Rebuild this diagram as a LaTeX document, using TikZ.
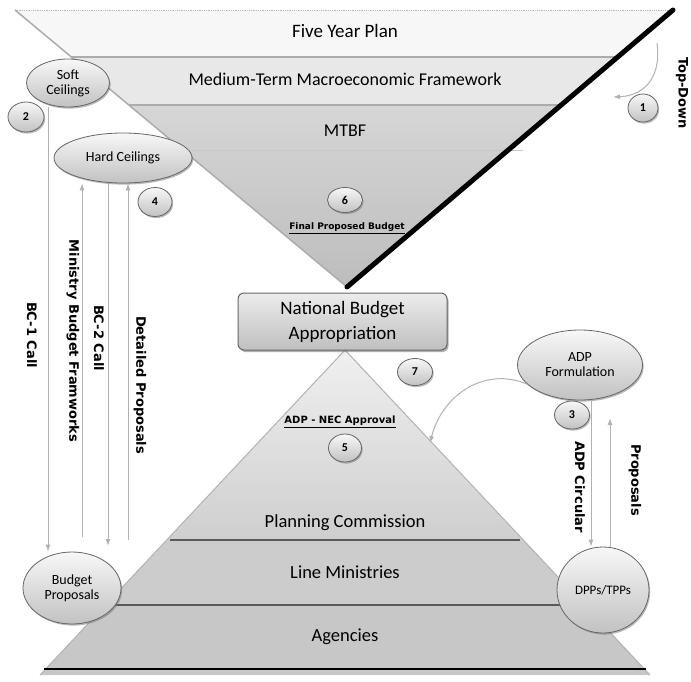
\documentclass[tikz,border=0pt]{standalone}
\usepackage{fontspec}
\setmainfont{Carlito}
\newfontfamily\lblfont{DejaVu Sans}
\usetikzlibrary{arrows.meta,shapes.geometric,shadows}
\begin{document}
\begin{tikzpicture}[x=1pt,y=-1pt,
  ell/.style={ellipse, shade, top color=gray!6, bottom color=gray!48, draw=black!60, line width=0.8pt,
    inner sep=0pt, align=center, font=\fontsize{14}{15}\selectfont,
    drop shadow={shadow xshift=1.2pt,shadow yshift=-1.6pt,fill=black!55}},
  num/.style={ell, font=\bfseries\fontsize{12}{12}\selectfont},
  band/.style={font=\fontsize{19}{20}\selectfont},
  lbl/.style={font=\lblfont\bfseries\fontsize{13}{13}\selectfont, rotate=-90, inner sep=0pt},
  ulbl/.style={font=\lblfont\bfseries\fontsize{10}{10}\selectfont, inner sep=0pt},
  conn/.style={draw=gray!60, line width=1pt},
  tip/.style={-{Latex[length=7pt,width=5pt]}},
  level/.style={draw=black!65, line width=1.6pt},
  nb/.style={rectangle, rounded corners=6pt, shade, top color=gray!15, bottom color=gray!50,
    draw=black!60, line width=1pt, minimum width=209pt, minimum height=57pt, align=center,
    font=\fontsize{19}{25}\selectfont,
    drop shadow={shadow xshift=1.5pt,shadow yshift=-2pt,fill=black!60}}
]
\useasboundingbox (0,0) rectangle (691,681);
\fill[white] (0,0) rectangle (691,681);

% ---------- top inverted triangle ----------
\coordinate (TL) at (15,10);
\coordinate (TR) at (673,10);
\coordinate (TA) at (347,287);
\fill[gray!6] (TL) -- (TR) -- (617.7,57) -- (71.3,57) -- cycle;
\fill[gray!18] (71.3,57) -- (617.7,57) -- (561.2,105) -- (128.9,105) -- cycle;
\shade[top color=gray!32, bottom color=gray!52] (128.9,105) -- (561.2,105) -- (TA) -- cycle;
\draw[gray!55, densely dotted, line width=0.8pt] (TL) -- (TR);
\draw[gray!65, line width=1.4pt] (71.3,57) -- (617.7,57);
\draw[gray!65, line width=1.4pt] (128.9,105) -- (561.2,105);
\draw[gray!45, line width=0.6pt] (169,150) -- (523,150);
\draw[gray!65, line width=1.5pt] (TL) -- (TA);
\draw[black, line width=5pt, line cap=round] (TR) -- (TA);

% ---------- bottom pyramid ----------
\coordinate (PA) at (345,350);
\shade[top color=gray!12, bottom color=gray!38] (PA) -- (523.2,540) -- (166.8,540) -- cycle;
\fill[gray!40] (166.8,540) -- (523.2,540) -- (584.2,605) -- (105.8,605) -- cycle;
\fill[gray!44] (105.8,605) -- (584.2,605) -- (650,675) -- (40,675) -- cycle;
\draw[gray!60, line width=1pt] (PA) -- (40,675);
\draw[gray!60, line width=1pt] (PA) -- (650,675);
\draw[level] (170,540) -- (520,540);
\draw[level] (110,605) -- (580,605);
\draw[black, line width=2.5pt] (44,669) -- (646,669);

% ---------- texts in bands ----------
\node[band] (fyp) at (345,31) {Five Year Plan};
\node[font=\fontsize{18}{19}\selectfont] (mtmf) at (345,79) {Medium-Term Macroeconomic Framework};
\node[font=\fontsize{18}{19}\selectfont] (mtbf) at (345,131) {MTBF};
\node[ulbl, font=\lblfont\bfseries\fontsize{9}{9}\selectfont] (fpb) at (347,228) {\underline{Final Proposed Budget}};
\node[ulbl] (nec) at (340,422) {\underline{ADP - NEC Approval}};
\node[font=\fontsize{18.5}{19}\selectfont] (pc) at (345,523) {Planning Commission};
\node[font=\fontsize{18.5}{19}\selectfont] (lm) at (345,572) {Line Ministries};
\node[font=\fontsize{18.5}{19}\selectfont] (ag) at (345,637) {Agencies};

% ---------- box ----------
\node[nb] (nba) at (342.5,321.5) {National Budget\\Appropriation};

% ---------- ellipses ----------
\node[ell, minimum width=83pt, minimum height=48pt] (soft) at (68,83) {Soft\\Ceilings};
\node[ell, minimum width=138pt, minimum height=50pt] (hard) at (123,158) {Hard Ceilings};
\node[ell, minimum width=125pt, minimum height=70pt] (adp) at (580,365) {ADP\\Formulation};
\node[ell, minimum width=98pt, minimum height=72pt] (bp) at (72,588) {Budget\\Proposals};
\node[ell, minimum width=92pt, minimum height=86pt, font=\fontsize{13}{14}\selectfont] (dpp) at (603,590) {DPPs/TPPs};

\node[num, minimum width=30pt, minimum height=28pt] (n1) at (643,108) {1};
\node[num, minimum width=36pt, minimum height=30pt] (n2) at (26,117) {2};
\node[num, minimum width=35pt, minimum height=28pt] (n3) at (572,415) {3};
\node[num, minimum width=34pt, minimum height=29pt] (n4) at (155,202) {4};
\node[num, minimum width=33pt, minimum height=28pt] (n5) at (345,448) {5};
\node[num, minimum width=35pt, minimum height=25pt] (n6) at (345,200) {6};
\node[num, minimum width=35pt, minimum height=27pt] (n7) at (415,372) {7};

% ---------- left connectors ----------
\coordinate (xa) at (48,0);
\coordinate (xb) at (82,0);
\coordinate (xc) at (108,0);
\coordinate (xd) at (128,0);
\coordinate (mb) at (82,537);
\coordinate (bc2e) at (108,546);
\coordinate (dpb) at (128,540);
\draw[conn,tip] (soft.south -| xa) -- (bp.north -| xa);
\draw[conn,tip] (mb) -- (hard.south -| xb);
\draw[conn,tip] (hard.south -| xc) -- (bc2e);
\draw[conn,tip] (dpb) -- (hard.south -| xd);
\node[lbl] (l1) at (32,335) {BC-1 Call};
\node[lbl] (l2) at (73,341) {Ministry Budget Framworks};
\node[lbl] (l3) at (99,338) {BC-2 Call};
\node[lbl] (l4) at (140,385) {Detailed Proposals};

% ---------- right connectors ----------
\coordinate (xe) at (591,0);
\coordinate (xf) at (610,0);
\coordinate (pt) at (610,418);
\draw[conn,tip] (adp.south -| xe) -- (dpp.north -| xe);
\draw[conn,tip] (dpp.north -| xf) -- (pt);
\node[lbl] (l5) at (580,487) {ADP Circular};
\node[lbl] (l6) at (635,480) {Proposals};

% ---------- curved arrows ----------
\coordinate (cA) at (430,443);
\draw[conn,tip] (adp.200) .. controls (485,366) and (442,395) .. (cA);
\coordinate (c1s) at (657,43);
\coordinate (c1e) at (613,97);
\draw[conn,tip] (c1s) .. controls (662,82) and (640,96) .. (c1e);

% ---------- side text ----------
\node[lbl] (td) at (682,93) {Top-Down};
\end{tikzpicture}
\end{document}
